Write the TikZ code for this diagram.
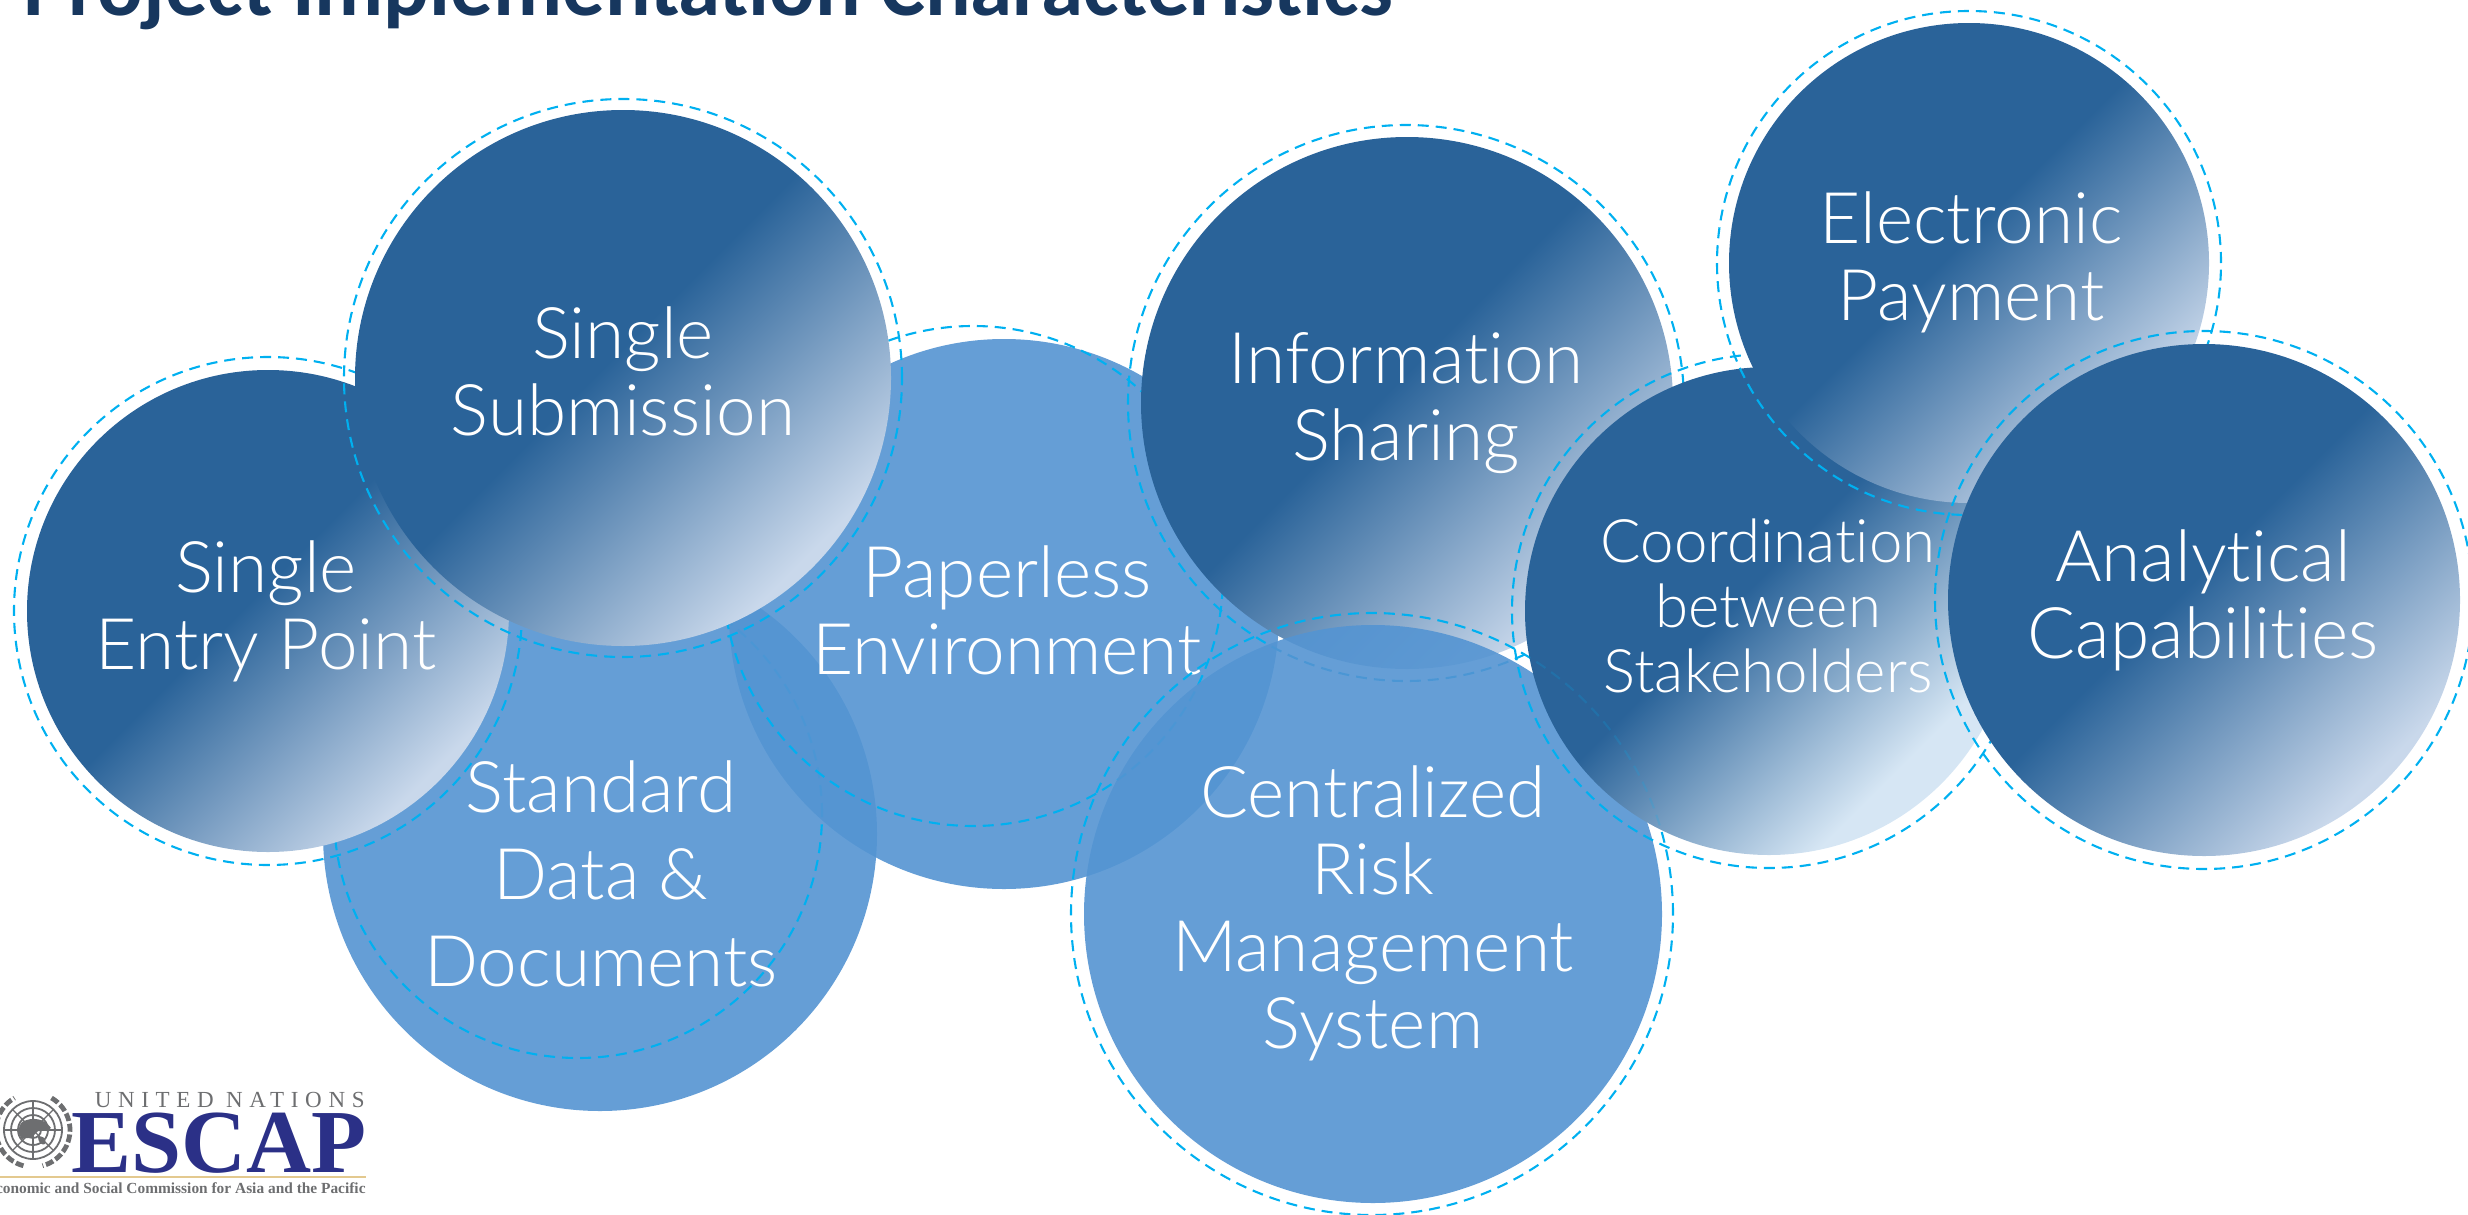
\documentclass[tikz,border=0pt]{standalone}
\usepackage{fontspec}
\setmainfont{Carlito}
\newfontfamily\lightf[Ligatures=NoCommon]{Lato Light}
\newfontfamily\logofont{Liberation Serif}
\definecolor{gd}{HTML}{2A6399}
\definecolor{gl}{HTML}{C9D8EB}
\definecolor{gk}{HTML}{D6E6F4}
\definecolor{lb}{HTML}{5494D2}
\definecolor{ringc}{HTML}{00B0F0}
\definecolor{titlec}{HTML}{17375E}
\definecolor{navy}{HTML}{2B3087}
\definecolor{logog}{HTML}{6D6E70}
\definecolor{logot}{HTML}{E3C98F}
\pgfdeclareverticalshading{fadeA}{100bp}{color(0bp)=(gd);color(48bp)=(gd);color(74bp)=(gl);color(100bp)=(gl)}
\pgfdeclareverticalshading{fadeB}{100bp}{color(0bp)=(gd);color(47bp)=(gd);color(71bp)=(gk);color(100bp)=(gk)}
\tikzset{
  disc/.style={circle,inner sep=0pt,outer sep=0pt,minimum size=#1 pt},
  dark/.style={disc=#1,shading=fadeA,shading angle=225},
  darkk/.style={disc=#1,shading=fadeB,shading angle=225},
  light/.style={disc=#1,fill=lb,fill opacity=.9},
  ring/.style={disc=#1,draw=ringc,line width=1.05pt,dash pattern=on 5.5pt off 3.5pt},
  lab/.style={text=white,align=center,inner sep=0pt,font=\lightf\fontsize{35.6pt}{38.5pt}\selectfont},
}
\begin{document}
\begin{tikzpicture}[x=.5pt,y=-.5pt]
\useasboundingbox (0,0) rectangle (2468,1215);
\clip (0,0) rectangle (2468,1215);
\node[anchor=base west,inner sep=0pt,text=titlec,font=\fontsize{42.5pt}{46pt}\selectfont\bfseries] (title) at (23,15) {Project Implementation Characteristics};
% Standard
\node[light=277] (stdC) at (600,834) {};
\node[lab,font=\lightf\fontsize{35.6pt}{43.5pt}\selectfont] (stdT) at (601,874) {Standard\\Data \&\\Documents};
\node[ring=244] (stdR) at (578,814) {};
% Paperless
\node[light=275] (papC) at (1004,614) {};
\node[lab] (papT) at (1007,610) {Paperless\\Environment};
\node[ring=250] (papR) at (973,576) {};
% Entry
\node[dark=241] (entC) at (268,611) {};
\node[lab] (entT) at (266,611) {Single\\Entry Point};
\node[ring=254] (entR) at (268,611) {};
% Submission
\node[dark=268] (subC) at (623,378) {};
\node[lab] (subT) at (623,371) {Single\\Submission};
\node[ring=279] (subR) at (623,378) {};
% Information
\node[dark=266] (infC) at (1407,403) {};
\node[lab] (infT) at (1406,403) {Information\\Sharing};
\node[ring=278] (infR) at (1406,403) {};
% Centralized
\node[light=289] (cenC) at (1373,914) {};
\node[lab] (cenT) at (1373,913) {Centralized\\Risk\\Management\\System};
\node[ring=301] (cenR) at (1372,914) {};
% Coordination
\node[darkk=244] (cooC) at (1769,611) {};
\node[lab,font=\lightf\fontsize{30pt}{32.5pt}\selectfont] (cooT) at (1768,606) {Coordination\\between\\Stakeholders};
\begin{scope}
\clip (cooC.center) circle[radius=244];
\node[ring=301,draw opacity=.18] (cenF) at (1372,914) {};
\end{scope}
\node[ring=257] (cooR) at (1769,611) {};
% Electronic
\node[dark=240] (eleC) at (1969,263) {};
\node[lab] (eleT) at (1971,262) {Electronic\\Payment};
\node[ring=252] (eleR) at (1969,263) {};
% Analytical
\node[dark=256] (anaC) at (2204,600) {};
\node[lab] (anaT) at (2203,600) {Analytical\\Capabilities};
\node[ring=269] (anaR) at (2204,600) {};
% Logo
\begin{scope}[shift={(33,1130)},logog]
  \foreach \rr in {8,15,22,29} \draw[line width=.9pt] (0,0) circle[radius=\rr];
  \foreach \aa in {0,45,...,315} \draw[line width=.6pt] (\aa:0) -- (\aa:29);
  \fill (-11,-8) .. controls (0,-14) and (12,-11) .. (18,-2) .. controls (12,3) and (5,-2) .. (2,4) .. controls (-2,10) and (-7,7) .. (-11,9) .. controls (-16,4) and (-15,-4) .. (-11,-8);
  \fill (5,7) .. controls (10,5) and (14,9) .. (12,14) .. controls (9,16) and (5,12) .. (5,7);
  \draw[line width=2.4pt,dash pattern=on 4pt off 1.4pt] (-60:37) arc[start angle=-60,end angle=75,radius=37];
  \draw[line width=2.4pt,dash pattern=on 4pt off 1.4pt] (105:37) arc[start angle=105,end angle=240,radius=37];
\end{scope}
\node[anchor=base east,inner sep=0pt,text=logog,font=\logofont\fontsize{11.5pt}{12pt}\selectfont] (un) at (365,1107) {\addfontfeature{LetterSpace=29}UNITED NATIONS};
\node[anchor=base east,inner sep=0pt,text=navy,font=\logofont\bfseries\fontsize{45pt}{50pt}\selectfont] (esc) at (367,1172) {ESCAP};
\coordinate (lineA) at (0,1177);
\coordinate (lineB) at (366,1177);
\draw[logot,line width=.8pt] (lineA) -- (lineB);
\node[anchor=base east,inner sep=0pt,text=logog,font=\logofont\bfseries\fontsize{7.7pt}{10pt}\selectfont] (esc2) at (366,1193) {Economic and Social Commission for Asia and the Pacific};
\end{tikzpicture}
\end{document}
